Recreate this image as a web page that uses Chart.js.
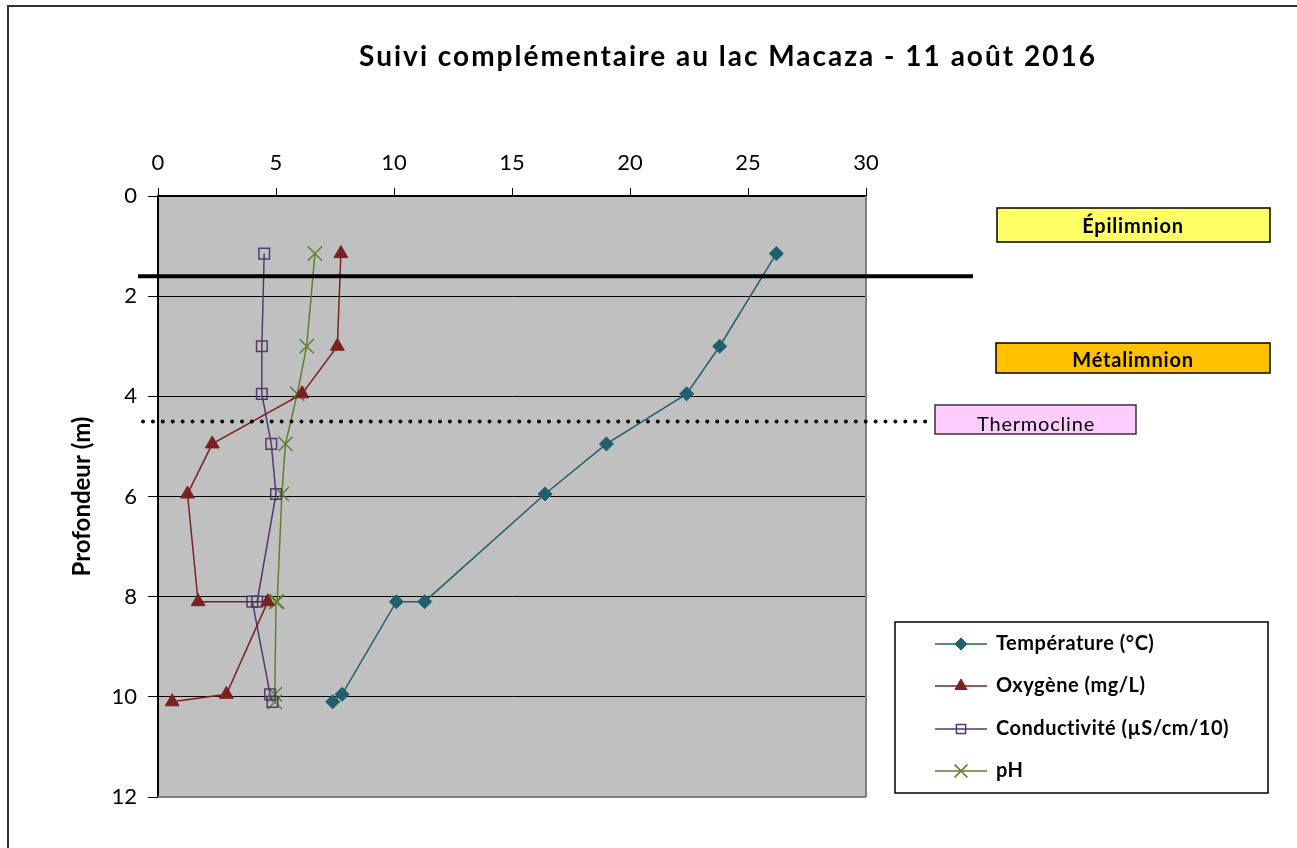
<!DOCTYPE html>
<html>
<head>
<meta charset="utf-8">
<title>Suivi complémentaire au lac Macaza</title>
<script src="https://cdn.jsdelivr.net/npm/chart.js@4.4.0/dist/chart.umd.min.js"></script>
<style>
  body { margin: 0; background: #fff; }
  canvas { display: block; }
</style>
</head>
<body>
<canvas id="chartscreen" width="1297" height="848"></canvas>
<script>
// sample depths (m), two readings were taken at 8.1 m
const depths = [1.15, 3.0, 3.95, 4.95, 5.95, 8.1, 8.1, 9.95, 10.1];

// measured values at each depth
const temperature = [26.2, 23.8, 22.4, 19.0, 16.4, 11.3, 10.1, 7.8, 7.4];
const oxygen = [7.75, 7.6, 6.1, 2.3, 1.25, 1.7, 4.65, 2.9, 0.6];
const conductivity = [4.5, 4.4, 4.4, 4.8, 5.0, 4.2, 4.0, 4.75, 4.85];
const ph = [6.65, 6.3, 5.9, 5.4, 5.25, 5.05, 5.0, 4.95, 4.95];

const seriesNames = ["Température (°C)", "Oxygène (mg/L)", "Conductivité (µS/cm/10)", "pH"];

// layer limits (m)
const epilimnionDepth = 1.6;
const thermoclineDepth = 4.5;

const titleText = "Suivi complémentaire au lac Macaza - 11 août 2016";
const fontName = "Lato, 'Open Sans', sans-serif";

function points(values) {
    return values.map((v, i) => ({x: v, y: depths[i]}));
}

// background, frame, title, layer lines, labels and legend
const lakePlugin = {
    id: 'lake',
    beforeDraw(chart) {
        const ctx = chart.ctx;
        const a = chart.chartArea;
        ctx.save();
        ctx.fillStyle = '#fff';
        ctx.fillRect(0, 0, chart.width, chart.height);
        ctx.fillStyle = '#c0c0c0';
        ctx.fillRect(a.left, a.top, a.right - a.left, a.bottom - a.top);
        // outer chart frame (only top and left are visible)
        ctx.strokeStyle = '#333';
        ctx.lineWidth = 2;
        ctx.strokeRect(8, 6, chart.width + 20, chart.height + 20);
        // title
        ctx.fillStyle = '#000';
        ctx.font = 'bold 28px ' + fontName;
        ctx.letterSpacing = '2px';
        ctx.textAlign = 'center';
        ctx.textBaseline = 'middle';
        ctx.fillText(titleText, 728, 57);
        ctx.restore();
    },
    beforeDatasetsDraw(chart) {
        const ctx = chart.ctx;
        const a = chart.chartArea;
        ctx.save();
        ctx.strokeStyle = '#808080';
        ctx.lineWidth = 2;
        ctx.beginPath();
        ctx.moveTo(a.left, a.bottom);
        ctx.lineTo(a.right, a.bottom);
        ctx.moveTo(a.right, a.top);
        ctx.lineTo(a.right, a.bottom);
        ctx.stroke();
        ctx.restore();
    },
    afterDatasetsDraw(chart) {
        const ctx = chart.ctx;
        const a = chart.chartArea;
        const yScale = chart.scales.y;
        ctx.save();
        // epilimnion limit
        let y = yScale.getPixelForValue(epilimnionDepth);
        ctx.strokeStyle = '#000';
        ctx.lineWidth = 4;
        ctx.beginPath();
        ctx.moveTo(a.left - 20, y);
        ctx.lineTo(a.right + 107, y);
        ctx.stroke();
        // thermocline
        y = yScale.getPixelForValue(thermoclineDepth);
        ctx.lineWidth = 4;
        ctx.lineCap = 'round';
        ctx.setLineDash([0, 9.9]);
        ctx.beginPath();
        ctx.moveTo(a.left - 15, y);
        ctx.lineTo(a.right + 68, y);
        ctx.stroke();
        ctx.restore();
    },
    afterDraw(chart) {
        const ctx = chart.ctx;
        ctx.save();
        ctx.letterSpacing = '0.8px';
        drawBox(ctx, 997, 208, 273, 34, '#ffff66', '#000', 'Épilimnion', 'bold 20px ' + fontName, 1133, 227);
        drawBox(ctx, 996, 343, 274, 30, '#ffc000', '#000', 'Métalimnion', 'bold 20px ' + fontName, 1133, 361);
        drawBox(ctx, 935, 405, 201, 29, '#ffccff', '#333', 'Thermocline', '20px ' + fontName, 1036, 425);

        // legend
        ctx.fillStyle = '#fff';
        ctx.fillRect(895, 622, 373, 171);
        ctx.strokeStyle = '#000';
        ctx.lineWidth = 1.5;
        ctx.strokeRect(895, 622, 373, 171);
        const rows = [644, 686, 729, 771];
        ctx.letterSpacing = '0.5px';
        chart.data.datasets.forEach((ds, i) => {
            const ry = rows[i];
            ctx.strokeStyle = ds.borderColor;
            ctx.lineWidth = 1.5;
            ctx.beginPath();
            ctx.moveTo(935, ry);
            ctx.lineTo(987, ry);
            ctx.stroke();
            ctx.fillStyle = ds.pointBackgroundColor;
            ctx.strokeStyle = ds.pointBorderColor;
            ctx.lineWidth = ds.pointBorderWidth;
            Chart.helpers.drawPoint(ctx, {
                pointStyle: ds.pointStyle,
                radius: ds.legendRadius,
                rotation: 0,
                borderWidth: ds.pointBorderWidth
            }, 961, ry);
            ctx.fillStyle = '#000';
            ctx.font = 'bold 20px ' + fontName;
            ctx.textAlign = 'left';
            ctx.textBaseline = 'middle';
            ctx.fillText(ds.label, 996, ry);
        });
        ctx.restore();
    }
};

function drawBox(ctx, x, y, w, h, fill, stroke, text, font, tx, ty) {
    ctx.fillStyle = fill;
    ctx.fillRect(x, y, w, h);
    ctx.strokeStyle = stroke;
    ctx.lineWidth = 1.5;
    ctx.strokeRect(x, y, w, h);
    ctx.fillStyle = '#000';
    ctx.font = font;
    ctx.textAlign = 'center';
    ctx.textBaseline = 'middle';
    ctx.fillText(text, tx, ty);
}

const chart_canvas = document.getElementById('chartscreen');

new Chart(chart_canvas, {
    type: 'scatter',
    data: {
        datasets: [{
            label: seriesNames[0],
            data: points(temperature),
            borderColor: '#215e6e',
            pointBackgroundColor: '#215e6e',
            pointBorderColor: '#215e6e',
            pointStyle: 'rectRot',
            pointRadius: 7,
            legendRadius: 6,
            pointBorderWidth: 1,
            borderWidth: 1.5
        }, {
            label: seriesNames[1],
            data: points(oxygen),
            borderColor: '#7a2222',
            pointBackgroundColor: '#7a2222',
            pointBorderColor: '#7a2222',
            pointStyle: 'triangle',
            pointRadius: 8,
            legendRadius: 7,
            pointBorderWidth: 1,
            borderWidth: 1.5
        }, {
            label: seriesNames[2],
            data: points(conductivity),
            borderColor: '#4e3c6e',
            pointBackgroundColor: 'rgba(0,0,0,0)',
            pointBorderColor: '#4e3c6e',
            pointStyle: 'rect',
            pointRadius: 7.5,
            legendRadius: 6.5,
            pointBorderWidth: 1.5,
            borderWidth: 1.5
        }, {
            label: seriesNames[3],
            data: points(ph),
            borderColor: '#5f7f2f',
            pointBackgroundColor: '#5f7f2f',
            pointBorderColor: '#5f7f2f',
            pointStyle: 'crossRot',
            pointRadius: 10,
            legendRadius: 9,
            pointBorderWidth: 1.5,
            borderWidth: 1.5
        }]
    },
    options: {
        responsive: false,
        animation: false,
        showLine: true,
        layout: {
            padding: {left: 0, top: 72, right: 431, bottom: 51}
        },
        plugins: {
            legend: {display: false},
            tooltip: {enabled: false},
            title: {display: false}
        },
        scales: {
            x: {
                type: 'linear',
                position: 'top',
                min: 0,
                max: 30,
                afterFit: s => { s.height = 124; },
                ticks: {
                    stepSize: 5,
                    color: '#000',
                    padding: 12,
                    font: {family: fontName, size: 22}
                },
                grid: {
                    drawOnChartArea: false,
                    drawTicks: true,
                    tickLength: 8,
                    color: '#000'
                },
                border: {display: true, color: '#000', width: 2}
            },
            y: {
                type: 'linear',
                reverse: true,
                min: 0,
                max: 12,
                afterFit: s => { s.width = 158; },
                ticks: {
                    stepSize: 2,
                    color: '#000',
                    padding: 11,
                    font: {family: fontName, size: 22}
                },
                grid: {
                    color: '#000',
                    lineWidth: 1,
                    drawTicks: true,
                    tickLength: 10
                },
                border: {display: true, color: '#000', width: 2},
                title: {
                    display: true,
                    text: 'Profondeur (m)',
                    color: '#000',
                    font: {family: fontName, size: 24, weight: 'bold'},
                    padding: {top: 67.6, bottom: 0}
                }
            }
        }
    },
    plugins: [lakePlugin]
});
</script>
</body>
</html>
